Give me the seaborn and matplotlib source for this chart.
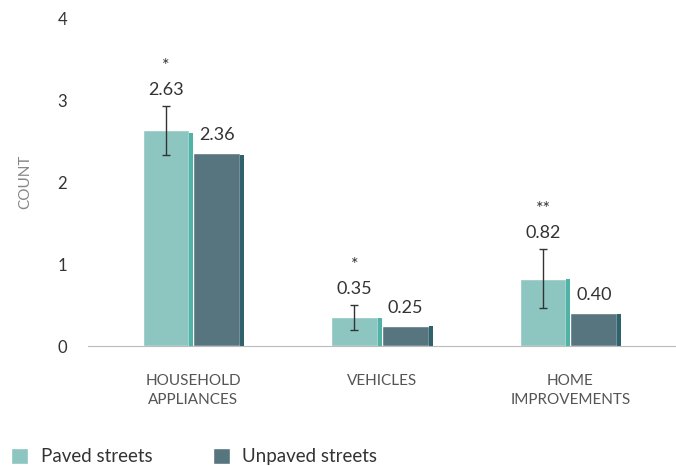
import pandas as pd
import seaborn as sns
import matplotlib.pyplot as plt
from matplotlib.patches import Rectangle

categories = ['HOUSEHOLD\nAPPLIANCES', 'VEHICLES', 'HOME\nIMPROVEMENTS']
groups = ['Paved streets', 'Unpaved streets']
paved = [2.63, 0.35, 0.82]
unpaved = [2.36, 0.25, 0.40]
paved_err = [0.30, 0.15, 0.36]
stars = ['*', '*', '**']

face_colors = ['#8dc5c0', '#56757f']
side_colors = ['#4fb3a8', '#2f626c']

df = pd.DataFrame({
    'category': categories * 2,
    'group': [groups[0]] * 3 + [groups[1]] * 3,
    'value': paved + unpaved,
})

sns.set_style('white')
plt.rcParams['font.family'] = ['Lato', 'DejaVu Sans']

fig = plt.figure(figsize=(6.76, 4.66), dpi=100)
ax = fig.add_axes([0.13, 0.2575, 0.87, 0.7035])

sns.barplot(data=df, x='category', y='value', hue='group', palette=face_colors,
            width=0.54, errorbar=None, ax=ax, legend=False, saturation=1)

# thin darker strip on the right of each bar (pseudo 3D edge)
for i, patch in enumerate(ax.patches[:6]):
    g = i // 3
    x0 = patch.get_x()
    w = patch.get_width()
    h = patch.get_height()
    patch.set_width(w * 0.92)
    ax.add_patch(Rectangle((x0 + w * 0.92, 0), w * 0.08, h * 0.99,
                           facecolor=side_colors[g], edgecolor='none'))

# error bars on paved bars, labels
for i in range(3):
    p = ax.patches[i]
    xc = p.get_x() + p.get_width() / 2
    ax.errorbar(xc, paved[i], yerr=paved_err[i], color='#333333',
                capsize=3, lw=1, capthick=1)
    top = paved[i] + paved_err[i]
    ax.annotate(f'{paved[i]:.2f}', (xc, top), xytext=(0, 6),
                textcoords='offset points', ha='center', va='bottom',
                fontsize=13, color='#333333')
    ax.annotate(stars[i], (xc, top), xytext=(0, 23),
                textcoords='offset points', ha='center', va='bottom',
                fontsize=13, color='#333333')
    q = ax.patches[i + 3]
    xq = q.get_x() + q.get_width() / 2
    ax.annotate(f'{unpaved[i]:.2f}', (xq, unpaved[i]), xytext=(0, 7),
                textcoords='offset points', ha='center', va='bottom',
                fontsize=13, color='#333333')

ax.set_ylim(0, 4)
ax.set_yticks([0, 1, 2, 3, 4])
ax.set_xlim(-0.56, 2.56)
ax.set_xlabel('')
ax.set_ylabel('COUNT', color='#888888', fontsize=11, labelpad=18)
ax.tick_params(axis='y', length=0, pad=15, labelsize=12, labelcolor='#333333')
ax.tick_params(axis='x', length=0, pad=20, labelsize=11, labelcolor='#555555')
for lab in ax.get_xticklabels():
    lab.set_linespacing(1.5)
sns.despine(ax=ax, left=True)
ax.spines['bottom'].set_color('#bbbbbb')

handles = [Rectangle((0, 0), 1, 1, facecolor=c) for c in face_colors]
fig.legend(handles, groups, loc='lower left', bbox_to_anchor=(-0.008, -0.035),
           ncol=2, frameon=False, fontsize=13.5, handlelength=0.9,
           handleheight=0.9, handletextpad=0.65, columnspacing=3.25,
           labelcolor='#333333')

fig.savefig('out.png', dpi=100)
